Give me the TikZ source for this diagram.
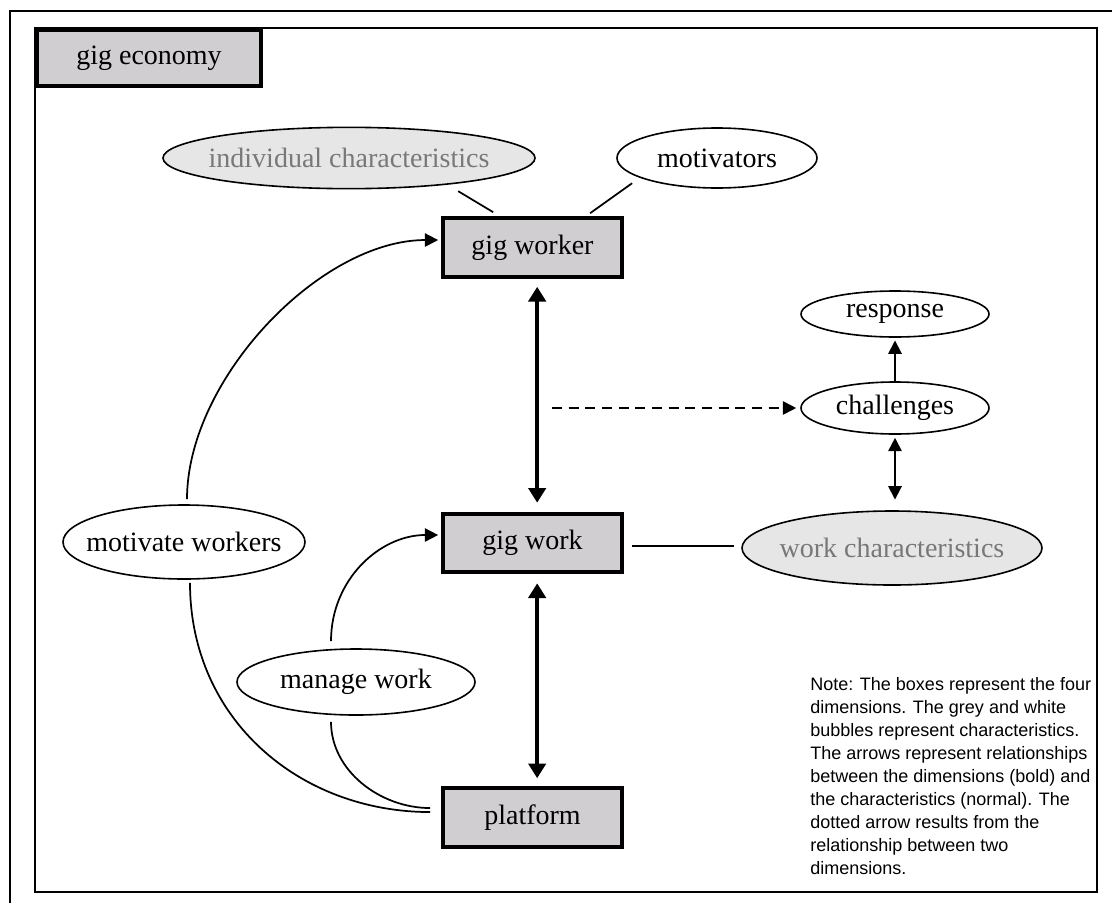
\documentclass[tikz,border=0pt]{standalone}
\usepackage{fontspec}
\setmainfont{Liberation Serif}
\newfontfamily\notefont{Liberation Sans}
\usetikzlibrary{arrows.meta,shapes.geometric}
\definecolor{boxgrey}{RGB}{208,206,208}
\definecolor{bubblegrey}{RGB}{230,230,230}
\definecolor{greytext}{RGB}{120,120,120}
% bubble text is set in a zero-width box so the ellipse keeps its given size
\newcommand\bubtext[1]{\makebox[0pt]{#1}}
\begin{document}
\begin{tikzpicture}[x=0.75pt,y=-0.75pt,
  dimbox/.style={draw, line width=3pt, fill=boxgrey, minimum width=134pt,
    minimum height=44pt, inner sep=0pt, font=\fontsize{21}{25}\selectfont},
  bubble/.style={draw, ellipse, line width=1.2pt, fill=white, inner sep=0pt,
    font=\fontsize{21}{25}\selectfont},
  greybubble/.style={bubble, fill=bubblegrey, text=greytext},
  bold arrow/.style={line width=2.6pt,
    {Triangle[length=11pt,width=13pt]}-{Triangle[length=11pt,width=13pt]}},
  thin arrow/.style={line width=1.3pt, -{Triangle[length=10pt,width=10pt]}},
  thin double arrow/.style={line width=1.3pt,
    {Triangle[length=10pt,width=10pt]}-{Triangle[length=10pt,width=10pt]}},
  thin line/.style={line width=1.3pt},
]
\useasboundingbox (0,0) rectangle (1112,903);

% frames
\draw[line width=1.5pt] (10,903) -- (10,11) -- (1112,11);
\draw[line width=1.8pt] (35,28) rectangle (1097,892);

% dimensions
\node[dimbox, minimum width=168pt, minimum height=42pt] (eco) at (149,58) {gig economy};
\node[dimbox] (worker) at (532.5,247.5) {gig worker};
\node[dimbox] (work) at (532.5,543) {gig work};
\node[dimbox] (plat) at (532.5,817.5) {platform};

% characteristics
\node[greybubble, minimum width=279pt, minimum height=46pt] (ic) at (349,158) {\bubtext{individual characteristics}};
\node[bubble, minimum width=150pt, minimum height=45pt] (mot) at (717,158) {\bubtext{motivators}};
\node[bubble, minimum width=141pt, minimum height=34.5pt] (resp) at (895,314) {\bubtext{response}};
\node[bubble, minimum width=141pt, minimum height=39pt] (chal) at (895,408) {\bubtext{challenges}};
\node[greybubble, minimum width=225pt, minimum height=55.5pt] (wc) at (892,548) {\bubtext{work characteristics}};
\node[bubble, minimum width=181.5pt, minimum height=55.5pt] (mw) at (184,542) {\bubtext{motivate workers}};
\node[bubble, minimum width=178.5pt, minimum height=49.5pt] (mng) at (356,682) {\bubtext{manage work}};

% links of the upper bubbles to the gig worker
\draw[thin line] ([shift={(12.75pt,18.75pt)}]worker.north west) -- ([shift={(39pt,3pt)}]worker.north west);
\draw[thin line] ([shift={(143.25pt,24.75pt)}]worker.north west) -- ([shift={(111.75pt,2.25pt)}]worker.north west);

% relationships between the dimensions
\draw[bold arrow, shorten <=6pt, shorten >=6.75pt] ([xshift=3.5pt]worker.south) -- ([xshift=3.5pt]work.north);
\draw[bold arrow, shorten <=6.75pt, shorten >=6pt] ([xshift=3.5pt]work.south) -- ([xshift=3.5pt]plat.north);

% resulting challenges
\coordinate (dstart) at (552,408);
\draw[thin arrow, dash pattern=on 7.5pt off 5pt, shorten >=3pt] (dstart) -- (chal.west);
\draw[thin arrow, shorten >=2pt] (chal.north) -- (resp.south);
\draw[thin double arrow, shorten <=2.25pt, shorten >=8pt] (chal.south) -- (chal.south |- wc.north);
\coordinate (wl) at ([yshift=-2.25pt]work.east);
\draw[thin line, shorten <=6pt, shorten >=5.25pt] (wl) -- (wl -| wc.west);

% platform side
\draw[thin arrow] ([shift={(2.25pt,3.75pt)}]mw.north) .. controls +(0,-120) and +(-118,0) .. ([shift={(-2.25pt,5.6pt)}]worker.west);
\draw[thin line] ([shift={(4.5pt,-2.25pt)}]mw.south) .. controls +(0,137) and +(-130,0) .. ([shift={(-8.25pt,4.1pt)}]plat.west);
\draw[thin arrow] ([shift={(-18.75pt,5.25pt)}]mng.north) .. controls +(0,-62) and +(-58,0) .. ([shift={(-2.25pt,6pt)}]work.west);
\draw[thin line] ([shift={(-18.75pt,-4.5pt)}]mng.south) .. controls +(0,49) and +(-50,0) .. ([shift={(-8.25pt,7.1pt)}]plat.west);

% legend
\node[anchor=north west, inner sep=0pt, align=left,
  font=\notefont\fontsize{13.5}{17.3}\selectfont] (note) at (810,677)
  {Note: The boxes represent the four\\
   dimensions. The grey and white\\
   bubbles represent characteristics.\\
   The arrows represent relationships\\
   between the dimensions (bold) and\\
   the characteristics (normal). The\\
   dotted arrow results from the\\
   relationship between two\\
   dimensions.};
\end{tikzpicture}
\end{document}
